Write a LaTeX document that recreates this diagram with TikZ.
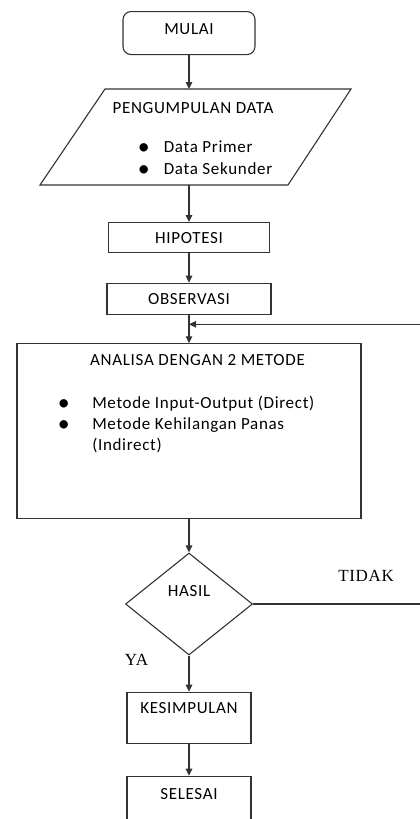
\documentclass[tikz,border=0pt]{standalone}
\usepackage{fontspec}
\setmainfont{Carlito}[LetterSpace=4]
\newfontfamily\serifjawab{Liberation Serif}[LetterSpace=4]
\usetikzlibrary{shapes.geometric,arrows.meta,positioning}
\newcommand{\titik}{\smash{\raisebox{-2.3pt}{\scalebox{1.4}{\textbullet}}}}

\begin{document}
\begin{tikzpicture}[x=1pt,y=-1pt,>={Triangle[length=7pt,width=6.5pt]},
   line width=1.1pt,
   every node/.style={font=\fontsize{17}{20.5}\selectfont},
   kotak/.style={draw=black!80,rectangle,inner sep=0pt,anchor=north},
   daftar/.style={inner sep=0pt,anchor=base west},
   jawab/.style={font=\fontsize{17}{20.5}\selectfont\serifjawab}]
  \useasboundingbox (0,0) rectangle (420,819);

  \node (mulai) [kotak,rounded corners=8pt,minimum width=132pt,
     text height=23pt,text depth=20pt] at (189,11) {MULAI};

  % jajaran genjang pengumpulan data
  \coordinate (kumpul-atas) at (189,89);
  \coordinate (kumpul-bawah) at (189,185);
  \draw[black!80] (105,89) -- (351,89) -- (288,185) -- (40,185) -- cycle;
  \node (kumpul) [anchor=base] at (193,113.3) {PENGUMPULAN DATA};
  \node (data) [daftar] at (123.3,152.3) {\begin{tabular}[t]{@{}l@{}l@{}}
     \makebox[40pt]{\titik} & Data Primer\\[1.2pt]
     \makebox[40pt]{\titik} & Data Sekunder
     \end{tabular}};

  \node (hipotesi) [kotak,minimum width=161pt,minimum height=30pt]
     at (189,222) {HIPOTESI};
  \node (observasi) [kotak,minimum width=164pt,minimum height=31pt]
     at (189,282.7) {OBSERVASI};
  \coordinate (balik) at (189,324.3);

  \node (analisa) [kotak,minimum width=344pt,minimum height=175pt]
     at (189,343.3) {};
  \node (judul) [anchor=base] at (197.5,365.7) {ANALISA DENGAN 2 METODE};
  \node (metode) [daftar] at (34.9,408.3) {\begin{tabular}[t]{@{}l@{}l@{}}
     \makebox[56.8pt]{\titik} & Metode Input-Output (Direct)\\[0.8pt]
     \makebox[56.8pt]{\titik} & Metode Kehilangan Panas\\
     & (Indirect)
     \end{tabular}};

  \node (hasil) [diamond,draw=black!80,inner sep=0pt,minimum width=127pt,
     minimum height=102pt,text height=11pt,text depth=25.6pt]
     at (189,604) {HASIL};

  \node (kesimpulan) [kotak,minimum width=124pt,text height=21.3pt,
     text depth=29.7pt] at (189,691.7) {KESIMPULAN};
  \node (selesai) [kotak,minimum width=124pt,text height=23.3pt,
     text depth=27.7pt] at (189,775.7) {SELESAI};

  \draw[->,black!80] (mulai) -- (kumpul-atas);
  \draw[->,black!80] (kumpul-bawah) -- (hipotesi);
  \draw[->,black!80] (hipotesi) -- (observasi);
  \draw[->,black!80] (observasi) -- (analisa);
  \draw[->,black!80] (analisa) -- (hasil);
  \draw[->,black!80] (hasil) -- node[jawab,text=black,pos=.12,left=37pt]{YA}
     (kesimpulan);
  \draw[->,black!80] (kesimpulan) -- (selesai);
  \draw[->,black!80] (hasil.east) -- node[jawab,text=black,pos=.646,above=19pt]{TIDAK}
     ++(175,0) |- (balik);
\end{tikzpicture}
\end{document}
